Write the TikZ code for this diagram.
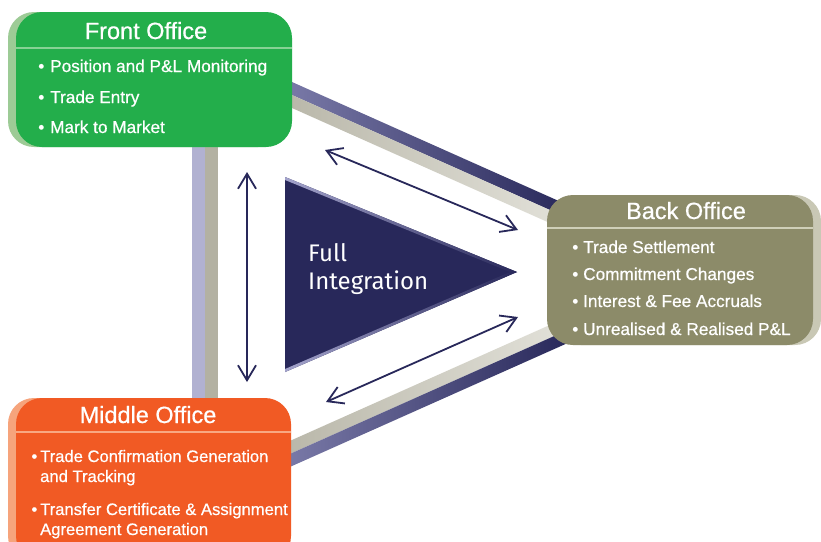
\documentclass[tikz,border=0pt]{standalone}
\usepackage{fontspec}
\setmainfont{Liberation Sans}[FakeBold=0.6]
\newfontfamily\firafont{Fira Sans}
\usetikzlibrary{arrows.meta,calc}
\definecolor{frontgreen}{HTML}{23AE4B}
\definecolor{frontshadow}{HTML}{9DCB96}
\definecolor{frontline}{HTML}{86D294}
\definecolor{midorange}{HTML}{F15A24}
\definecolor{midshadow}{HTML}{F6A47C}
\definecolor{midline}{HTML}{F8A882}
\definecolor{backolive}{HTML}{8C8B69}
\definecolor{backshadow}{HTML}{C9C8B5}
\definecolor{backline}{HTML}{CFCFB8}
\definecolor{navy}{HTML}{28285A}
\definecolor{navylight}{HTML}{7E7EAC}
\definecolor{lav}{HTML}{B1B1D1}
\definecolor{barbeige}{HTML}{B3B1A2}
\definecolor{beigedark}{HTML}{B7B5A7}
\definecolor{beigelight}{HTML}{E3E2DA}
\definecolor{edgelight}{HTML}{A4A4CC}
\tikzset{
  officebox/.style={shape=rectangle, rounded corners=26pt, inner sep=0pt},
  titletext/.style={font=\fontsize{23.5}{28}\selectfont, text=white, inner sep=0pt},
  itemtext/.style={font=\fontsize{17.2}{20}\selectfont, text=white, inner sep=0pt},
  miditem/.style={font=\fontsize{16.6}{20}\selectfont, text=white, inner sep=0pt},
  twoway/.style={draw=navy, line width=1.8pt,
    {Straight Barb[length=15pt,width=18pt,line width=1.8pt]}-{Straight Barb[length=15pt,width=18pt,line width=1.8pt]}}
}
\begin{document}
\begin{tikzpicture}[x=1pt,y=-1pt]
\useasboundingbox (0,0) rectangle (821,541);
\clip (0,0) rectangle (821,541);
\fill[white] (0,0) rectangle (821,541);

% frame bars
\fill[lav] (192,130) rectangle (205,410);
\fill[barbeige] (205,130) rectangle (218,410);
\shade[left color=navylight, right color=navy] (270,72.2) -- (570,206) -- (570,219) -- (270,85.2) -- cycle;
\shade[left color=beigedark, right color=beigelight] (270,85.2) -- (570,219) -- (570,232) -- (270,98.2) -- cycle;
\shade[left color=beigedark, right color=beigelight] (270,449.8) -- (570,316) -- (570,329) -- (270,462.8) -- cycle;
\shade[left color=navylight, right color=navy] (270,462.8) -- (570,329) -- (570,342) -- (270,475.8) -- cycle;

% shadows
\node[officebox, fill=frontshadow, minimum width=276pt, minimum height=135pt] (frontsh) at (146,79.5) {};
\node[officebox, fill=midshadow, minimum width=275pt, minimum height=164pt] (midsh) at (145.5,480) {};
\node[officebox, fill=backshadow, minimum width=266pt, minimum height=150pt] (backsh) at (688,270) {};

% boxes
\node[officebox, fill=frontgreen, minimum width=276pt, minimum height=135pt] (front) at (154,79.5) {};
\node[officebox, fill=midorange, minimum width=275pt, minimum height=164pt] (middle) at (153.5,480) {};
\node[officebox, fill=backolive, minimum width=266pt, minimum height=150pt] (back) at (680,270) {};

% header lines
\draw[frontline, line width=1.5pt] (16,48) -- (292,48);
\draw[midline, line width=1.5pt] (16,432) -- (291,432);
\draw[backline, line width=1.5pt] (547,228) -- (813,228);

% titles
\node[titletext, anchor=base] (fronttitle) at (146,39) {Front Office};
\node[titletext, anchor=base] (backtitle) at (686,219) {Back Office};
\node[titletext, anchor=base] (midtitle) at (148,423) {Middle Office};

% front items
\node[itemtext, anchor=base east] (fb1) at (44.5,72) {•};
\node[itemtext, anchor=base west] (f1) at (50,72) {Position and P\&L Monitoring};
\node[itemtext, anchor=base east] (fb2) at (44.5,103) {•};
\node[itemtext, anchor=base west] (f2) at (50,103) {Trade Entry};
\node[itemtext, anchor=base east] (fb3) at (44.5,133) {•};
\node[itemtext, anchor=base west] (f3) at (50,133) {Mark to Market};

% back items
\node[itemtext, anchor=base east] (bb1) at (578.5,253) {•};
\node[itemtext, anchor=base west] (b1) at (583,253) {Trade Settlement};
\node[itemtext, anchor=base east] (bb2) at (578.5,280) {•};
\node[itemtext, anchor=base west] (b2) at (583,280) {Commitment Changes};
\node[itemtext, anchor=base east] (bb3) at (578.5,307) {•};
\node[itemtext, anchor=base west] (b3) at (583,307) {Interest \& Fee Accruals};
\node[itemtext, anchor=base east] (bb4) at (578.5,335) {•};
\node[itemtext, anchor=base west] (b4) at (583,335) {Unrealised \& Realised P\&L};

% middle items
\node[miditem, anchor=base east] (mb1) at (37.5,462) {•};
\node[miditem, anchor=base west] (m1) at (40,462) {Trade Confirmation Generation};
\node[miditem, anchor=base west] (m1b) at (40,482) {and Tracking};
\node[miditem, anchor=base east] (mb2) at (37.5,515) {•};
\node[miditem, anchor=base west] (m2) at (40,515) {Transfer Certificate \& Assignment};
\node[miditem, anchor=base west] (m2b) at (40,535) {Agreement Generation};

% central triangle
\coordinate (ta) at (285,177);
\coordinate (tb) at (285,372);
\coordinate (tc) at (517,272);
\fill[navy] (ta) -- (tc) -- (tb) -- cycle;
\shade[left color=edgelight, right color=navy] (ta) -- (tc) -- (510,272) -- (285,180) -- cycle;
\shade[left color=edgelight, right color=navy] (tb) -- (tc) -- (510,272) -- (285,369) -- cycle;
\node[font=\firafont\fontsize{24}{28}\selectfont, text=white, align=left, anchor=north west, inner sep=0pt] (fulltext) at (308,243) {Full\\Integration};

% arrows
\coordinate (v1) at (247,172);
\coordinate (v2) at (247,382);
\coordinate (d1) at (325,150);
\coordinate (d2) at (518,230);
\coordinate (e1) at (518,317);
\coordinate (e2) at (326,402);
\draw[twoway] (v1) -- (v2);
\draw[twoway] (d1) -- (d2);
\draw[twoway] (e1) -- (e2);
\end{tikzpicture}
\end{document}
